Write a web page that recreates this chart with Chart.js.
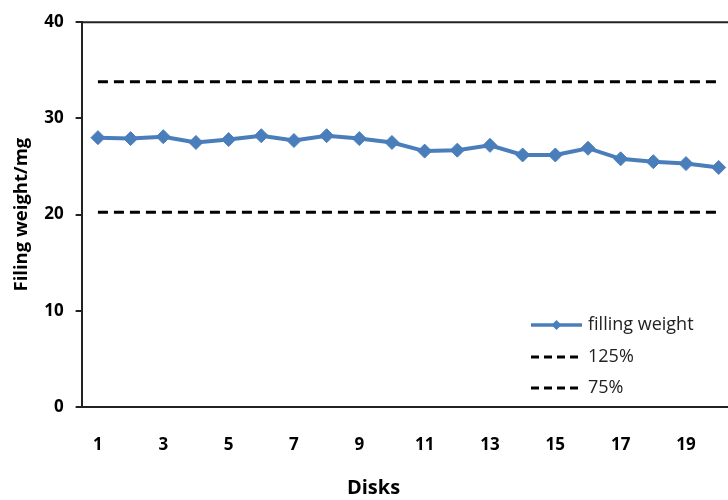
<!DOCTYPE html>
<html>
<head>
<meta charset="utf-8">
<script src="https://cdn.jsdelivr.net/npm/chart.js@4/dist/chart.umd.min.js"></script>
<style>
  html, body { margin: 0; padding: 0; background: #fff; overflow: hidden; }
  #wrap { position: relative; width: 743px; height: 500px; }
</style>
</head>
<body>
<div id="wrap"><canvas id="chart"></canvas></div>
<script>
// Disk numbers along the x axis
const disks = ['1','2','3','4','5','6','7','8','9','10','11','12','13','14','15','16','17','18','19','20'];
// Measured filling weight of each disk (mg)
const fillingWeight = [28.0, 27.9, 28.1, 27.5, 27.8, 28.2, 27.7, 28.2, 27.9, 27.5,
                       26.6, 26.7, 27.2, 26.2, 26.2, 26.9, 25.8, 25.5, 25.3, 24.9];
// Upper limit (125 % of mean) and lower limit (75 % of mean)
const limit125 = [33.8, 33.8, 33.8, 33.8, 33.8, 33.8, 33.8, 33.8, 33.8, 33.8,
                  33.8, 33.8, 33.8, 33.8, 33.8, 33.8, 33.8, 33.8, 33.8, 33.8];
const limit75 = [20.25, 20.25, 20.25, 20.25, 20.25, 20.25, 20.25, 20.25, 20.25, 20.25,
                 20.25, 20.25, 20.25, 20.25, 20.25, 20.25, 20.25, 20.25, 20.25, 20.25];
const yTicks = [0, 10, 20, 30, 40];
const yTitle = 'Filing weight/mg';

const FONT = "'Open Sans', 'DejaVu Sans', sans-serif";
const BLUE = '#4a7ebb';
const AXIS = '#222';

// Top edge of the plot frame, the rotated y title and an inset legend
const frameAndLegend = {
  id: 'frameAndLegend',
  afterDatasetsDraw(chart) {
    const { ctx, chartArea: a } = chart;
    ctx.save();
    ctx.strokeStyle = AXIS;
    ctx.lineWidth = 2;
    ctx.beginPath();
    ctx.moveTo(a.left, a.top);
    ctx.lineTo(a.right, a.top);
    ctx.stroke();

    // y axis title, centred on the plot height
    ctx.save();
    ctx.translate(22, (a.top + a.bottom) / 2);
    ctx.rotate(-Math.PI / 2);
    ctx.fillStyle = '#000';
    ctx.font = 'bold 18.5px ' + FONT;
    ctx.textAlign = 'center';
    ctx.textBaseline = 'middle';
    ctx.fillText(yTitle, 0, 0);
    ctx.restore();

    const x0 = a.right - 204, len = 51;
    const rows = [a.bottom - 82, a.bottom - 50, a.bottom - 19];
    chart.data.datasets.forEach((ds, i) => {
      const y = rows[i];
      ctx.save();
      ctx.strokeStyle = ds.borderColor;
      ctx.lineWidth = ds.borderDash ? 3 : 3.5;
      ctx.setLineDash(ds.borderDash ? [8, 5] : []);
      ctx.beginPath();
      ctx.moveTo(x0, y);
      ctx.lineTo(x0 + len, y);
      ctx.stroke();
      if (!ds.borderDash) {
        const cx = x0 + len / 2, r = 5;
        ctx.fillStyle = ds.pointBackgroundColor;
        ctx.beginPath();
        ctx.moveTo(cx, y - r);
        ctx.lineTo(cx + r, y);
        ctx.lineTo(cx, y + r);
        ctx.lineTo(cx - r, y);
        ctx.closePath();
        ctx.fill();
      }
      ctx.restore();
      ctx.fillStyle = '#222';
      ctx.font = '18px ' + FONT;
      ctx.textBaseline = 'middle';
      ctx.textAlign = 'left';
      ctx.fillText(ds.label, x0 + len + 6, y);
    });
    ctx.restore();
  }
};

new Chart(document.getElementById('chart'), {
  type: 'line',
  data: {
    labels: disks,
    datasets: [
      {
        label: 'filling weight',
        data: fillingWeight,
        borderColor: BLUE,
        backgroundColor: BLUE,
        pointBackgroundColor: BLUE,
        pointBorderColor: BLUE,
        borderWidth: 4,
        pointStyle: 'rectRot',
        pointRadius: 7,
        pointBorderWidth: 1,
        tension: 0
      },
      {
        label: '125%',
        data: limit125,
        borderColor: '#000',
        borderWidth: 3,
        borderDash: [10, 6],
        pointRadius: 0,
        fill: false
      },
      {
        label: '75%',
        data: limit75,
        borderColor: '#000',
        borderWidth: 3,
        borderDash: [10, 6],
        pointRadius: 0,
        fill: false
      }
    ]
  },
  options: {
    responsive: true,
    maintainAspectRatio: false,
    animation: false,
    events: [],
    layout: { padding: { top: 22, right: 4, left: 8, bottom: 0 } },
    plugins: {
      legend: { display: false },
      tooltip: { enabled: false },
      title: {
        display: true,
        text: 'Disks',
        position: 'bottom',
        color: '#000',
        font: { family: FONT, size: 20, weight: 'bold' },
        padding: { top: 0, bottom: 0 }
      }
    },
    scales: {
      x: {
        offset: true,
        // invisible tick marks push the labels down without side padding
        grid: { display: true, drawOnChartArea: false, drawTicks: true, tickLength: 27, color: 'rgba(0,0,0,0)' },
        border: { display: true, color: AXIS, width: 2 },
        ticks: {
          autoSkip: false,
          maxRotation: 0,
          padding: 1,
          color: '#000',
          font: { family: FONT, size: 17, weight: 'bold' },
          callback: (v, i) => (i % 2 === 0 ? disks[i] : '')
        },
        afterFit: (s) => { s.height = 69; }
      },
      y: {
        min: 0,
        max: 40,
        afterBuildTicks: (s) => { s.ticks = yTicks.map(v => ({ value: v })); },
        grid: { drawOnChartArea: false, drawTicks: true, tickLength: 6, color: AXIS, lineWidth: 2 },
        border: { display: true, color: AXIS, width: 2 },
        ticks: {
          padding: 12,
          color: '#000',
          font: { family: FONT, size: 17, weight: 'bold' }
        },
        afterFit: (s) => { s.width = 73.6; }
      }
    }
  },
  plugins: [frameAndLegend]
});
</script>
</body>
</html>
